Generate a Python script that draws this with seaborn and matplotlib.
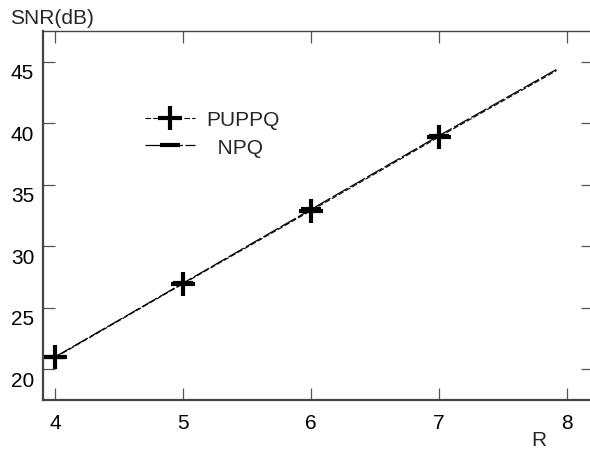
import numpy as np
import pandas as pd
import matplotlib
matplotlib.use("Agg")
import matplotlib.pyplot as plt
import matplotlib.transforms as mtrans
import seaborn as sns

# ---- data ----
R = [4, 5, 6, 7, 7.92]
puppq = [20.95, 26.95, 32.9, 38.9, 44.3]
npq = [21.0, 27.0, 33.0, 39.0, 44.4]
xticks = [4, 5, 6, 7, 8]
yticks = [20, 25, 30, 35, 40, 45]

sns.set_style("ticks")
plt.rcParams["font.family"] = ["Liberation Sans", "DejaVu Sans"]
FS = 15

W, H = 590, 452
fig = plt.figure(figsize=(W / 100, H / 100), dpi=100)
left_px, right_px, top_px, bot_px = 42.5, 592.5, 32, 401
ax = fig.add_axes([left_px / W, 1 - bot_px / H, (right_px - left_px) / W, (bot_px - top_px) / H])

df = pd.DataFrame({"R": R, "PUPPQ": puppq, "NPQ": npq})

sns.lineplot(data=df, x="R", y="NPQ", ax=ax, color="black", lw=0.9,
             linestyle=(0, (14, 2)), marker="_", markersize=15, markeredgewidth=3,
             markeredgecolor="black", markevery=[0, 1, 2, 3], label="  NPQ", sort=False)
sns.lineplot(data=df, x="R", y="PUPPQ", ax=ax, color="black", lw=0.8,
             linestyle=(0, (5, 2)), marker="+", markersize=17, markeredgewidth=3,
             markeredgecolor="black", markevery=[0, 1, 2, 3], label="PUPPQ", sort=False)

ax.set_xlim(3.9, 8.2)
ax.set_ylim(17.48, 47.52)
ax.set_xticks(xticks)
ax.set_yticks(yticks)
ax.set_xlabel("")
ax.set_ylabel("")

for s in ax.spines.values():
    s.set_visible(True)
    s.set_color("#444444")
    s.set_linewidth(1.0)
ax.spines["left"].set_linewidth(1.6)
ax.spines["bottom"].set_linewidth(1.6)

ax.tick_params(axis="both", which="both", direction="in", length=8.6, width=0.9,
               color="#555555", top=True, right=True, labelsize=FS, labelcolor="black")
ax.tick_params(axis="y", pad=6)
ax.tick_params(axis="x", pad=9.5)

# y tick labels sit slightly below their ticks in the reference
off = mtrans.ScaledTranslation(0, -9 / 100, fig.dpi_scale_trans)
for lab in ax.get_yticklabels():
    lab.set_transform(lab.get_transform() + off)

handles, labels = ax.get_legend_handles_labels()
order = [1, 0]
leg = ax.legend([handles[i] for i in order], [labels[i] for i in order],
                frameon=False, fontsize=FS, loc="upper left",
                bbox_to_anchor=(145 / W, 1 - 111 / H), bbox_transform=fig.transFigure,
                borderpad=0, borderaxespad=0, handlelength=2.4, handletextpad=0.55,
                labelspacing=0.42)

fig.text(10 / W, 1 - 18 / H, "SNR(dB)", fontsize=FS, ha="left", va="center")
fig.text(539 / W, 1 - 441 / H, "R", fontsize=FS, ha="center", va="center")

fig.savefig("out.png", dpi=100)
